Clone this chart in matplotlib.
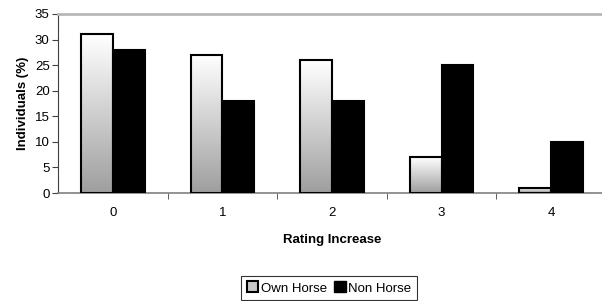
import numpy as np
import matplotlib.pyplot as plt
from matplotlib.patches import Patch

plt.rcParams['font.family'] = ['Liberation Sans', 'DejaVu Sans']

# data
categories = ['0', '1', '2', '3', '4']
own_horse = [31, 27, 26, 7, 1]
non_horse = [28, 18, 18, 25, 10]

fig = plt.figure(figsize=(6.02, 3.01), dpi=100)
ax = fig.add_axes([58 / 602, 1 - 193 / 301, 548 / 602, 179 / 301])

x = np.arange(len(categories))
w = 0.29

bars_own = ax.bar(x - w / 2, own_horse, w, color='white', edgecolor='black', linewidth=1.5, zorder=3)
bars_non = ax.bar(x + w / 2, non_horse, w, color='black', edgecolor='black', linewidth=1.5, zorder=3)

# gradient fill for own horse bars (white top -> gray bottom)
grad = np.linspace(0.62, 1.0, 256).reshape(-1, 1)
for b in bars_own:
    x0, y0 = b.get_x(), b.get_y()
    h = b.get_height()
    im = ax.imshow(grad, cmap='gray', vmin=0, vmax=1, origin='lower',
                   extent=[x0, x0 + b.get_width(), y0, y0 + h],
                   aspect='auto', zorder=2.5)
    im.set_clip_path(b)
    b.set_facecolor('none')

fs = 9.5
ax.set_xlim(-0.5, 4.5)
ax.set_ylim(0, 35)
ax.set_yticks(range(0, 36, 5))
ax.set_xticks(x)
ax.set_xticklabels(categories)
ax.set_xticks(np.arange(0.5, 4.5, 1), minor=True)
ax.tick_params(axis='x', which='major', length=0, labelsize=fs, pad=10)
ax.tick_params(axis='x', which='minor', length=4, direction='out', color='#404040')
ax.tick_params(axis='y', length=4, direction='out', labelsize=fs, pad=2, color='#404040')

ax.spines['right'].set_visible(False)
ax.spines['top'].set_color('#b8b8b8')
ax.spines['top'].set_linewidth(2)
ax.spines['left'].set_color('#404040')
ax.spines['bottom'].set_color('#808080')
ax.spines['bottom'].set_linewidth(1.2)

ax.set_ylabel('Individuals (%)', fontsize=fs, fontweight='bold', labelpad=4)
ax.set_xlabel('Rating Increase', fontsize=fs, fontweight='bold', labelpad=11)

handles = [Patch(facecolor='#c8c8c8', edgecolor='black', linewidth=1.5, label='Own Horse'),
           Patch(facecolor='black', edgecolor='black', label='Non Horse')]
leg = fig.legend(handles=handles, loc='center', bbox_to_anchor=(329 / 602, 1 - 288 / 301),
                 ncol=2, fontsize=fs, frameon=True, fancybox=False, edgecolor='black',
                 handlelength=0.9, handleheight=0.9, handletextpad=0.2, columnspacing=0.5,
                 borderpad=0.4)
leg.get_frame().set_linewidth(0.8)

fig.savefig('out.png', dpi=100)
